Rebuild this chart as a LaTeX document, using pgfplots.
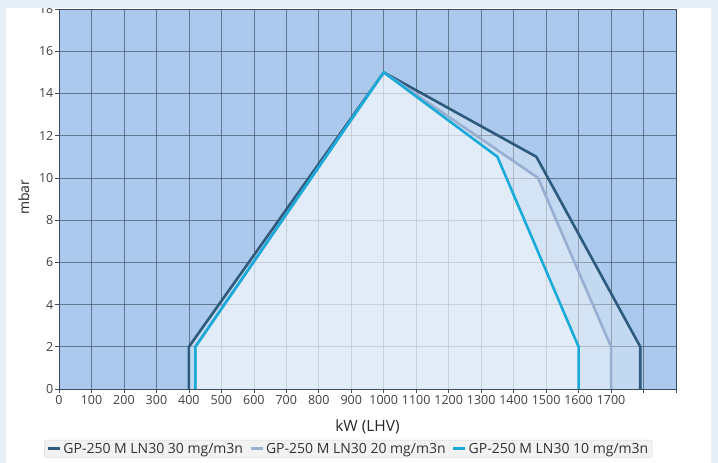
\documentclass[border=0pt]{standalone}
\usepackage{fontspec}
\setmainfont{Open Sans}
\usepackage{pgfplots}
\pgfplotsset{compat=1.18}
\definecolor{framebg}{HTML}{E6EEF7}
\definecolor{plotbg}{HTML}{AAC9EC}
\definecolor{darkline}{HTML}{2E5A7E}
\definecolor{grayline}{HTML}{98AFD2}
\definecolor{cyanline}{HTML}{1AAAD9}
\definecolor{gridcol}{HTML}{3E4C60}
\begin{document}
\begin{tikzpicture}
\fill[framebg] (0pt,0pt) rectangle (718pt,463pt);
\fill[white] (6pt,0pt) rectangle (711pt,455pt);
\begin{axis}[
  at={(59pt,74pt)}, anchor=south west,
  scale only axis, width=617pt, height=380pt,
  xmin=0, xmax=1900, ymin=0, ymax=18,
  axis background/.style={fill=plotbg},
  xtick={0,100,...,1900},
  xticklabels={0,100,200,300,400,500,600,700,800,900,1000,1100,1200,1300,1400,1500,1600,1700,,},
  ytick={0,2,...,18},
  grid=major,
  grid style={gridcol, line width=0.6pt, opacity=0.65},
  axis line style={gridcol, line width=0.8pt},
  tick style={gridcol, line width=0.6pt},
  tick align=outside, major tick length=4pt,
  xtick pos=bottom, ytick pos=left,
  /pgf/number format/assume math mode=true,
  tick label style={font=\fontsize{12.5}{14}\selectfont, text=black!75},
  xticklabel style={yshift=1pt, inner xsep=0.5pt},
  yticklabel style={inner xsep=1.5pt},
  xlabel={kW (LHV)}, ylabel={mbar},
  label style={text=black!85},
  xlabel style={font=\fontsize{15.5}{17}\selectfont, at={(0.5,-0.1)}, anchor=center},
  ylabel style={font=\fontsize{14}{16}\selectfont, at={(-0.057,0.505)}, anchor=center},
  legend style={at={(-0.024,-0.134)}, anchor=north west, legend columns=3,
    fill=black!5, draw=black!15, rounded corners=2pt,
    font=\fontsize{14}{16}\selectfont, text=black!80,
    inner xsep=2pt, inner ysep=1pt},
  legend image code/.code={\draw[line width=3pt,#1] (0pt,0pt) -- (12pt,0pt);},
  /tikz/every even column/.append style={column sep=4pt},
]
% fills
\addplot[draw=none, fill=white, fill opacity=0.3, forget plot] coordinates {(400,0) (400,2) (1000,15) (1470,11) (1790,2) (1790,0)} -- cycle;
\addplot[draw=none, fill=white, fill opacity=0.3, forget plot] coordinates {(420,0) (420,2) (1000,15) (1475,10) (1700,2) (1700,0)} -- cycle;
\addplot[draw=none, fill=white, fill opacity=0.3, forget plot] coordinates {(420,0) (420,2) (1000,15) (1350,11) (1600,2) (1600,0)} -- cycle;
% lines
\addplot[darkline, line width=2.6pt, line join=round] coordinates {(400,0) (400,2) (1000,15) (1470,11) (1790,2) (1790,0)};
\addlegendentry{GP-250 M LN30 30 mg/m3n}
\addplot[grayline, line width=2.6pt, line join=round] coordinates {(420,0) (420,2) (1000,15) (1475,10) (1700,2) (1700,0)};
\addlegendentry{GP-250 M LN30 20 mg/m3n}
\addplot[cyanline, line width=2.6pt, line join=round] coordinates {(420,0) (420,2) (1000,15) (1350,11) (1600,2) (1600,0)};
\addlegendentry{GP-250 M LN30 10 mg/m3n}
\end{axis}
\fill[framebg] (0pt,455pt) rectangle (718pt,463pt);
\end{tikzpicture}
\end{document}
